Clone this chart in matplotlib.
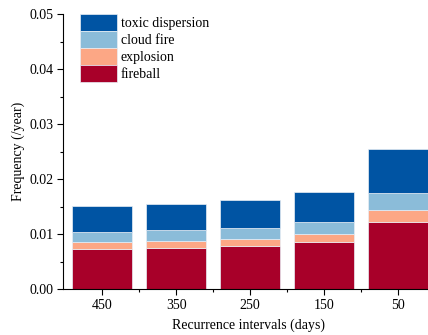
import numpy as np
import matplotlib
matplotlib.use('Agg')
import matplotlib.pyplot as plt
from matplotlib.ticker import MultipleLocator, FormatStrFormatter

plt.rcParams['font.family'] = ['Liberation Serif', 'DejaVu Serif']
plt.rcParams['font.size'] = 10

# Recurrence intervals and per-scenario frequencies (/year)
intervals = ['450', '350', '250', '150', '50']
fireball = [0.0073, 0.0074, 0.0078, 0.0086, 0.0122]
explosion = [0.0013, 0.0013, 0.0013, 0.0014, 0.0022]
cloud_fire = [0.0018, 0.0020, 0.0020, 0.0022, 0.0031]
toxic = [0.0047, 0.0048, 0.0051, 0.0055, 0.0079]

series = [('fireball', fireball, '#a80029'),
          ('explosion', explosion, '#fca785'),
          ('cloud fire', cloud_fire, '#8bbcd9'),
          ('toxic dispersion', toxic, '#0054a3')]

fig = plt.figure(figsize=(4.28, 3.35), dpi=100)
ax = fig.add_axes([63 / 428, 0.137, 372 / 428, 0.821])

x = np.arange(len(intervals))
bottom = np.zeros(len(intervals))
handles = []
for name, vals, col in series:
    b = ax.bar(x, vals, width=0.81, bottom=bottom, color=col,
               edgecolor='#e8eef5', linewidth=0.5, label=name)
    bottom += np.array(vals)
    handles.append(b)

ax.set_xlim(-0.53, 4.5)
ax.set_ylim(0, 0.05)
ax.set_xticks(x)
ax.set_xticklabels(intervals)
ax.set_xticks(x[:-1] + 0.5, minor=True)
ax.yaxis.set_major_locator(MultipleLocator(0.01))
ax.yaxis.set_minor_locator(MultipleLocator(0.005))
ax.yaxis.set_major_formatter(FormatStrFormatter('%.2f'))
ax.tick_params(which='major', direction='out', length=4, width=0.8, pad=3)
ax.tick_params(which='minor', direction='out', length=2, width=0.8)
ax.spines['top'].set_visible(False)
ax.spines['right'].set_visible(False)

ax.set_xlabel('Recurrence intervals (days)', labelpad=5)
ax.set_ylabel('Frequency (/year)', labelpad=3)

leg = ax.legend(handles[::-1], [s[0] for s in series][::-1],
                loc='upper left', bbox_to_anchor=(0.047, 1.0), frameon=False,
                handlelength=2.6, handleheight=1.5, labelspacing=0.0,
                handletextpad=0.3, borderaxespad=0.0, borderpad=0.0)

fig.savefig('out.png', dpi=100)
